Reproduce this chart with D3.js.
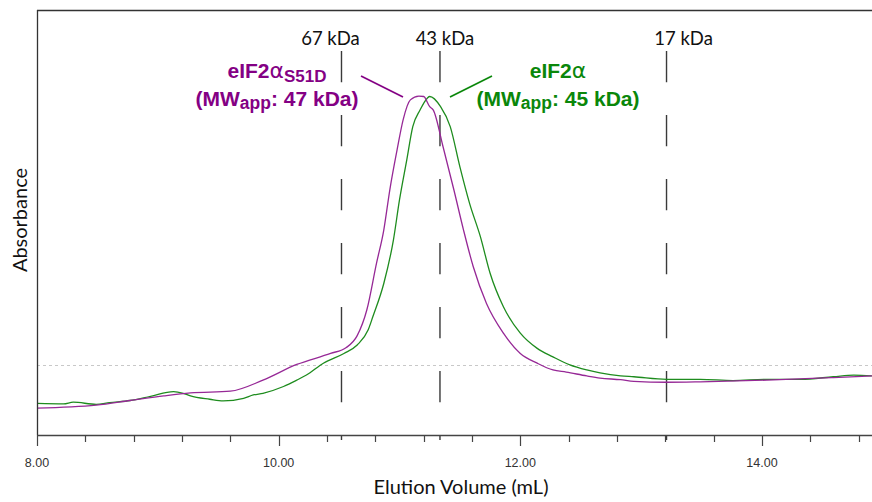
<!DOCTYPE html>
<html><head><meta charset="utf-8">
<script src="https://cdn.jsdelivr.net/npm/d3@7"></script>
<style>
html,body{margin:0;padding:0;background:#fff;}
svg{display:block;}
</style></head>
<body>
<div id="chart"></div>
<script>
// Elution volume (mL) and absorbance (arbitrary units)
const s51dVolume = [8.00,8.49,8.77,9.05,9.27,9.60,9.87,10.15,10.43,10.56,10.65,10.73,10.81,10.87,10.92,10.98,11.03,11.09,11.16,11.20,11.25,11.28,11.36,11.45,11.53,11.61,11.72,11.86,12.00,12.14,12.27,12.38,12.55,12.66,12.83,12.94,13.21,13.49,14.04,14.59,14.91];
const s51dAbs    = [6.1,6.8,7.9,9.0,9.7,10.1,12.7,16.4,19.0,20.4,23.2,29.3,40.3,48.1,57.6,67.0,74.1,78.8,79.7,79.6,77.2,76.4,67.8,57.6,48.1,39.5,30.8,23.8,19.0,16.7,15.1,14.6,13.7,13.2,12.8,12.4,12.2,12.3,12.7,13.3,13.7];

const wtVolume = [8.00,8.22,8.30,8.49,8.60,8.77,8.94,9.13,9.21,9.27,9.43,9.54,9.71,9.79,9.87,10.04,10.15,10.23,10.37,10.54,10.65,10.74,10.78,10.87,10.95,11.00,11.06,11.11,11.17,11.23,11.25,11.34,11.42,11.50,11.58,11.67,11.75,11.86,12.00,12.14,12.27,12.41,12.55,12.66,12.83,12.94,13.21,13.49,13.76,14.04,14.32,14.59,14.76,14.91];
const wtAbs    = [7.2,7.1,7.5,7.0,7.4,7.9,8.9,10.0,9.6,9.0,8.2,7.8,8.4,9.2,9.6,11.2,12.7,13.9,16.7,19.0,21.0,24.5,27.7,35.5,45.8,55.2,64.6,72.5,76.4,79.2,79.6,77.2,72.5,63.0,54.4,46.5,37.9,30.0,23.8,20.2,18.2,16.3,15.1,14.4,13.7,13.5,12.9,12.9,12.6,12.9,12.9,13.5,13.9,13.7];

// Molecular weight standards
const standardLabels  = ["67 kDa","43 kDa","17 kDa"];
const standardVolumes = [10.52,11.335,13.21];

// Axis ticks
const xTickValues  = [8.0,8.4,8.8,9.2,9.6,10.0,10.4,10.8,11.2,11.6,12.0,12.4,12.8,13.2,13.6,14.0,14.4,14.8];
const xMajorValues = [8,10,12,14];
const referenceLevel = 16.3;

const W = 872, H = 502;
const svg = d3.select("#chart").append("svg").attr("width", W).attr("height", H);

const x = d3.scaleLinear().domain([8, 8 + 835/120.83]).range([37, 872]);
const y = d3.scaleLinear().domain([0, 100]).range([434, 10]);

const plotTop = 10, plotBottom = 435;

// horizontal dotted reference line
svg.append("line")
  .attr("x1", x(8)).attr("x2", W)
  .attr("y1", Math.round(y(referenceLevel)) + 0.5).attr("y2", Math.round(y(referenceLevel)) + 0.5)
  .attr("stroke", "#c8c8c8").attr("stroke-width", 1).attr("stroke-dasharray", "3,3");

// standard dashed lines
standardVolumes.forEach((v, i) => {
  svg.append("line")
    .attr("x1", x(v)).attr("x2", x(v))
    .attr("y1", 51).attr("y2", 440)
    .attr("stroke", "#3a3a3a").attr("stroke-width", 1.4)
    .attr("stroke-dasharray", "31.3,32.7");
});
const labelOffsets = [-11, 5, 17];
standardVolumes.forEach((v, i) => {
  svg.append("text")
    .attr("x", x(v) + labelOffsets[i]).attr("y", 45)
    .attr("text-anchor", "middle")
    .attr("font-family", "Lato, 'Open Sans', sans-serif")
    .attr("font-size", 18.5).attr("fill", "#111")
    .text(standardLabels[i]);
});

// curves
const line = d3.line().x(d => x(d[0])).y(d => y(d[1])).curve(d3.curveMonotoneX);
const s51d = s51dVolume.map((v, i) => [v, s51dAbs[i]]);
const wt = wtVolume.map((v, i) => [v, wtAbs[i]]);

svg.append("path").datum(wt).attr("d", line)
  .attr("fill", "none").attr("stroke", "#1e8c1e").attr("stroke-width", 1.3);
svg.append("path").datum(s51d).attr("d", line)
  .attr("fill", "none").attr("stroke", "#962896").attr("stroke-width", 1.3);

// frame: left and top
svg.append("line").attr("x1", 37.5).attr("x2", 37.5).attr("y1", plotTop).attr("y2", plotBottom)
  .attr("stroke", "#333").attr("stroke-width", 1.3);
svg.append("line").attr("x1", 37).attr("x2", W).attr("y1", plotTop + 0.5).attr("y2", plotTop + 0.5)
  .attr("stroke", "#333").attr("stroke-width", 1.3);

// x axis
const xAxisG = svg.append("g").attr("transform", `translate(0,${plotBottom})`);
xAxisG.append("line").attr("x1", 37).attr("x2", W).attr("y1", 0.5).attr("y2", 0.5)
  .attr("stroke", "#444").attr("stroke-width", 1.5);
xAxisG.selectAll(".tk").data(xTickValues).enter().append("line")
  .attr("x1", d => Math.round(x(d)) + 0.5).attr("x2", d => Math.round(x(d)) + 0.5)
  .attr("y1", 0).attr("y2", d => xMajorValues.some(m => Math.abs(m - d) < 1e-6) ? 11 : 7)
  .attr("stroke", "#444").attr("stroke-width", 1.2);
xAxisG.selectAll(".tl").data(xMajorValues).enter().append("text")
  .attr("x", d => x(d)).attr("y", 32)
  .attr("text-anchor", "middle")
  .attr("font-family", "'Liberation Sans', Arial, sans-serif")
  .attr("font-size", 12.5).attr("fill", "#333")
  .text(d => d3.format(".2f")(d));

// axis titles
svg.append("text").attr("x", 461).attr("y", 494).attr("text-anchor", "middle")
  .attr("font-family", "Lato, 'Open Sans', sans-serif").attr("font-size", 20).attr("fill", "#111")
  .text("Elution Volume (mL)");
svg.append("text").attr("transform", "translate(27,220) rotate(-90)").attr("text-anchor", "middle")
  .attr("font-family", "Lato, 'Open Sans', sans-serif").attr("font-size", 20).attr("fill", "#111")
  .text("Absorbance");

// annotations
const purple = "#840084", green = "#0a870a";
function annot(cx, color, line1Main, line1Sub, line2Num) {
  const f = "'Liberation Sans', Arial, sans-serif";
  const t1 = svg.append("text").attr("x", cx).attr("y", 78).attr("text-anchor", "middle")
    .attr("font-family", f).attr("font-size", 21).attr("font-weight", "bold").attr("fill", color);
  t1.append("tspan").text(line1Main);
  t1.append("tspan").attr("font-weight", "normal").attr("font-family", "'DejaVu Sans', sans-serif").attr("font-size", 22).text("α");
  if (line1Sub) t1.append("tspan").attr("dy", 4).attr("font-size", 17).text(line1Sub);
  const t2 = svg.append("text").attr("x", cx).attr("y", 106).attr("text-anchor", "middle")
    .attr("font-family", f).attr("font-size", 21).attr("font-weight", "bold").attr("fill", color);
  t2.append("tspan").text("(MW");
  t2.append("tspan").attr("dy", 3).attr("font-size", 17.5).text("app");
  t2.append("tspan").attr("dy", -3).text(": " + line2Num + " kDa)");
}
annot(277, purple, "eIF2", "S51D", 47);
annot(558, green, "eIF2", null, 45);

svg.append("line").attr("x1", 361).attr("y1", 76).attr("x2", 403).attr("y2", 97)
  .attr("stroke", purple).attr("stroke-width", 1.6);
svg.append("line").attr("x1", 492).attr("y1", 76).attr("x2", 450).attr("y2", 97)
  .attr("stroke", green).attr("stroke-width", 1.6);
</script>
</body></html>
